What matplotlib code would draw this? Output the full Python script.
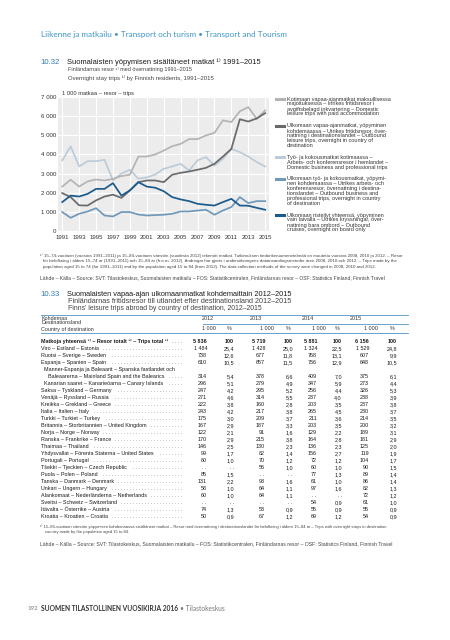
import matplotlib

matplotlib.use("Agg")
import matplotlib.pyplot as plt

W, H = 450, 640
BODY = ["Liberation Sans", "DejaVu Sans"]
NARROW = ["Liberation Sans Narrow", "Liberation Sans", "DejaVu Sans"]
ROUND = ["Lato", "DejaVu Sans"]

# --- chart 10.32: trips with overnight stays, 1 000 trips ---
YEARS = list(range(1991, 2016))
DOMESTIC_LEISURE = [2320, 2680, 2320, 2590, 2690, 2640, 2720, 2870, 2940, 3890, 3890, 4000, 4200,
                    4430, 4550, 4800, 4800, 4990, 5130, 5780, 5690, 6250, 6470, 5860, 6300]
OUTBOUND_LEISURE = [1980, 1770, 1340, 1330, 1600, 1800, 1900, 1730, 2120, 2550, 2640, 2640, 2550,
                    2940, 3040, 3110, 3200, 3300, 3510, 3890, 4290, 5836, 5719, 5881, 6156]
DOMESTIC_BUSINESS = [3690, 4420, 3370, 3650, 3650, 3720, 2650, 3000, 3200, 2730, 2800, 2950, 3250,
                     3370, 3510, 3160, 3690, 3860, 3420, 3770, 4290, 4120, 3890, 3600, 3370]
OUTBOUND_BUSINESS = [990, 690, 900, 1020, 1190, 810, 760, 990, 990, 860, 810, 830, 850,
                     900, 1020, 1020, 1070, 1110, 850, 1070, 1250, 1770, 1460, 1560, 1560]
CRUISES = [1510, 1850, 1800, 1940, 2200, 2200, 2500, 1850, 2120, 2550, 2320, 2260, 2080,
           1770, 1650, 1560, 1420, 1370, 1330, 1510, 1680, 1330, 1320, 1210, 1110]

LEGEND_TEXT = [
    ["Kotimaan vapaa-ajanmatkat maksullisessa", "majoituksessa – Inrikes fritidsresor i",
     "avgiftsbelagd inkvartering – Domestic", "leisure trips with paid accommodation"],
    ["Ulkomaan vapaa-ajanmatkat, yöpyminen", "kohdemaassa – Utrikes fritidsresor, över-",
     "nattning i destinationslandet – Outbound", "leisure trips, overnight in country of",
     "destination"],
    ["Työ- ja kokousmatkat kotimaassa –", "Arbets- och konferensresor i hemlandet –",
     "Domestic business and professional trips"],
    ["Ulkomaan työ- ja kokousmatkat, yöpymi-", "nen kohdemaassa – Utrikes arbets- och",
     "konferensresor, övernattning i destina-", "tionslandet – Outbound business and",
     "professional trips, overnight in country", "of destination"],
    ["Ulkomaan risteilyt yhteensä, yöpyminen", "vain laivalla – Utrikes kryssningar, över-",
     "nattning bara ombord – Outbound", "cruises, overnight on board only"],
]

# --- table 10.33: leisure trips abroad by destination ---
TABLE_YEARS = ["2012", "2013", "2014", "2015"]
TOTAL_LABEL = "Matkoja yhteensä ¹⁾ – Resor totalt ¹⁾ – Trips total ¹⁾"
TOTAL_K = [5836, 5719, 5881, 6156]
COUNTRIES = [
    "Viro – Estland – Estonia",
    "Ruotsi – Sverige – Sweden",
    "Espanja – Spanien – Spain",
    "Manner-Espanja ja Baleaarit – Spanska fastlandet och\nBaleaarerna – Mainland Spain and the Balearics",
    "Kanarian saaret – Kanarieöarna – Canary Islands",
    "Saksa – Tyskland – Germany",
    "Venäjä – Ryssland – Russia",
    "Kreikka – Grekland – Greece",
    "Italia – Italien – Italy",
    "Turkki – Turkiet – Turkey",
    "Britannia – Storbritannien – United Kingdom",
    "Norja – Norge – Norway",
    "Ranska – Frankrike – France",
    "Thaimaa – Thailand",
    "Yhdysvallat – Förenta Staterna – United States",
    "Portugali – Portugal",
    "Tšekki – Tjeckien – Czech Republic",
    "Puola – Polen – Poland",
    "Tanska – Danmark – Denmark",
    "Unkari – Ungern – Hungary",
    "Alankomaat – Nederländerna – Netherlands",
    "Sveitsi – Schweiz – Switzerland",
    "Itävalta – Österrike – Austria",
    "Kroatia – Kroatien – Croatia",
]
SUBREGIONS = {3, 4}
K2012 = [1484, 738, 610, 314, 296, 247, 271, 222, 243, 175, 167, 122, 170, 146, 99, 60,
         None, 85, 131, 58, 60, None, 74, 50]
P2012 = [25.4, 12.6, 10.5, 5.4, 5.1, 4.2, 4.6, 3.8, 4.2, 3.0, 2.9, 2.1, 2.9, 2.5, 1.7, 1.0,
         None, 1.5, 2.2, 1.0, 1.0, None, 1.3, 0.9]
K2013 = [1428, 677, 657, 378, 279, 295, 314, 160, 217, 209, 187, 91, 215, 130, 82, 70,
         56, None, 93, 64, 64, None, 53, 67]
P2013 = [25.0, 11.8, 11.5, 6.6, 4.9, 5.2, 5.5, 2.8, 3.8, 3.7, 3.3, 1.6, 3.8, 2.3, 1.4, 1.2,
         1.0, None, 1.6, 1.1, 1.1, None, 0.9, 1.2]
K2014 = [1324, 768, 756, 409, 347, 256, 237, 203, 265, 211, 203, 129, 164, 136, 156, 72,
         60, 77, 61, 97, None, 54, 55, 69]
P2014 = [22.5, 13.1, 12.9, 7.0, 5.9, 4.4, 4.0, 3.5, 4.5, 3.6, 3.5, 2.2, 2.8, 2.3, 2.7, 1.2,
         1.0, 1.3, 1.0, 1.6, None, 0.9, 0.9, 1.2]
K2015 = [1529, 607, 648, 375, 273, 326, 238, 237, 230, 214, 200, 189, 181, 125, 119, 104,
         90, 89, 86, 82, 72, 61, 55, 54]
P2015 = [24.8, 9.9, 10.5, 6.1, 4.4, 5.3, 3.9, 3.8, 3.7, 3.5, 3.2, 3.1, 2.9, 2.0, 1.9, 1.7,
         1.5, 1.4, 1.4, 1.3, 1.2, 1.0, 0.9, 0.9]

SOURCE = ("Lähde – Källa – Source: SVT: Tilastokeskus, Suomalaisten matkailu – FOS: Statistikcentralen, "
          "Finländarnas resor – OSF: Statistics Finland, Finnish Travel")
CHART_NOTE = [
    "¹⁾ 15–74-vuotiaan (vuosina 1991–2011) ja 15–84-vuotiaan väestön (vuodesta 2012) tekemät matkat. "
    "Tutkimuksen tiedonkeruumenetelmää on muutettu vuosina 2008, 2010 ja 2012. – Resor",
    "för befolkning i åldern 15–74 år (1991–2011) och 15–84 år (fr.o.m. 2012). Ändringar har gjorts i "
    "undersökningens datainsamlingsmetoder åren 2008, 2010 och 2012. – Trips made by the",
    "population aged 15 to 74 (for 1991–2011) and by the population aged 15 to 84 (from 2012). "
    "The data collection methods of the survey were changed in 2008, 2010 and 2012.",
]
TABLE_NOTE = [
    "¹⁾ 15–84-vuotiaan väestön yöpymisen kohdemaassa sisältäneet matkat – Resor med övernattning i "
    "destinationslandet för befolkning i åldern 15–84 år – Trips with overnight stays in destination",
    "country made by the population aged 15 to 84.",
]

SERIES = [DOMESTIC_BUSINESS, DOMESTIC_LEISURE, OUTBOUND_BUSINESS, OUTBOUND_LEISURE, CRUISES]
SERIES_COLORS = ["#bccbd7", "#b4b4b4", "#6f98b9", "#6a6a6a", "#1b5a8c"]
LEGEND_COLORS = ["#b4b4b4", "#6a6a6a", "#bccbd7", "#6f98b9", "#1b5a8c"]
BLUE = "#2b7cba"
RULE = "#4f93c6"

plt.rcParams["font.family"] = BODY
fig = plt.figure(figsize=(W / 100, H / 100), dpi=100)
renderer = fig.canvas.get_renderer()


def put(x, y, s, size=5.0, family=BODY, color="#1a1a1a", ha="left", weight="normal", width=None):
    """Place text by pixel coords (top-left origin); optionally scale font to a target width."""
    t = fig.text(x / W, 1 - y / H, s, fontsize=size, family=family, color=color,
                 ha=ha, va="center", fontweight=weight)
    if width is not None:
        w = t.get_window_extent(renderer).width
        t.set_fontsize(size * width / w)
    return t


def measure(s, family=BODY, size=5.0, width=None):
    """Font size that makes s `width` px wide, or the width of s at `size`; nothing is kept."""
    t = put(W / 2, H / 2, s, size=size, family=family)
    w = t.get_window_extent(renderer).width
    t.remove()
    return size * width / w if width is not None else w


def right_edge(t):
    return t.get_window_extent(renderer).x1


def hline(x0, x1, y, color=RULE, lw=0.6):
    fig.add_artist(plt.Line2D([x0 / W, x1 / W], [1 - y / H, 1 - y / H], color=color, lw=lw))


def fmt_k(v):
    return ". ." if v is None else f"{v:,}".replace(",", " ")


def fmt_p(v):
    return ". ." if v is None else f"{v:.1f}".replace(".", ",")


# header
put(40.7, 35, "Liikenne ja matkailu • Transport och turism • Transport and Tourism",
    family=ROUND, color="#3f95c8", width=248)

# ---- 10.32 ----
put(40.7, 62.3, "10.32", size=6.5, color=BLUE, width=19.3)
put(66.7, 62.3, "Suomalaisten yöpymisen sisältäneet matkat ¹⁾ 1991–2015", width=196)
put(67.5, 70, "Finländarnas resor ¹⁾ med övernattning 1991–2015", color="#444444", width=125)
put(67.5, 78.3, "Overnight stay trips ¹⁾ by Finnish residents, 1991–2015", color="#444444", width=148)

ax = fig.add_axes([58 / W, 1 - 231 / H, 211 / W, 134 / H])
ax.set_facecolor("#ececec")
for spine in ax.spines.values():
    spine.set_visible(False)
for values, color in zip(SERIES, SERIES_COLORS):
    ax.plot(YEARS, values, color=color, lw=1.25, solid_joinstyle="round")
ax.set_xlim(1990.5, 2015.45)
ax.set_ylim(0, 7000)
ax.set_xticks(range(1991, 2016, 2))
ax.set_yticks(range(0, 7001, 1000))
ax.set_yticklabels([fmt_k(v) for v in range(0, 7001, 1000)])
ax.grid(color="white", lw=0.8)
ax.set_axisbelow(True)
ax.tick_params(length=0, labelsize=4.4, colors="#333333")
ax.tick_params(axis="x", pad=3.2)
ax.tick_params(axis="y", pad=1.2)
put(62, 93.3, "1 000 matkaa – resor – trips", color="#333333", width=73)

# legend beside the chart
leg_size = measure(LEGEND_TEXT[0][0], width=105.7)
y = 99
for lines, color in zip(LEGEND_TEXT, LEGEND_COLORS):
    fig.add_artist(plt.Line2D([276 / W, 283.5 / W], [1 - y / H] * 2, color=color, lw=2.2))
    for line in lines:
        put(287, y, line, size=leg_size, color="#333333")
        y += 5
    y += 6.5

note_size = put(40, 255, CHART_NOTE[0], color="#444444", width=372).get_fontsize()
put(43, 261, CHART_NOTE[1], size=note_size, color="#444444")
put(43, 267, CHART_NOTE[2], size=note_size, color="#444444")
put(40, 278, SOURCE, color="#444444", width=346)

# ---- 10.33 ----
put(40.7, 294, "10.33", size=6.5, color=BLUE, width=19.3)
put(66.7, 294, "Suomalaisten vapaa-ajan ulkomaanmatkat kohdemaittain 2012–2015", width=232)
put(67.5, 301.5, "Finländarnas fritidsresor till utlandet efter destinationsland 2012–2015",
    color="#444444", width=230)
put(67.5, 308.5, "Finns' leisure trips abroad by country of destination, 2012–2015",
    color="#444444", width=197)

tab_size = measure(COUNTRIES[10], family=NARROW, width=106.7)
dot_pitch = measure(". " * 20, family=NARROW, size=tab_size) / 20
K_RIGHT = [207, 265, 317, 369]
P_RIGHT = [234, 293, 342, 397]
YEAR_LEFT = [202, 250, 302, 350]

hline(41, 408, 314.5)
hline(203, 408, 324)
hline(41, 408, 333)
put(41, 318, "Kohdemaa", size=tab_size, family=NARROW, color="#333333")
put(41, 322.5, "Destinationsland", size=tab_size, family=NARROW, color="#333333")
put(41, 329, "Country of destination", size=tab_size, family=NARROW, color="#333333")
for i, year in enumerate(TABLE_YEARS):
    put(YEAR_LEFT[i], 318.5, year, size=tab_size, family=NARROW, color="#333333")
    put(K_RIGHT[i] + 9, 329, "1 000", size=tab_size, family=NARROW, color="#333333", ha="right")
    put(P_RIGHT[i] - 2, 329, "%", size=tab_size, family=NARROW, color="#333333", ha="right")


def table_row(y, label, ks, ps, indent=0.0, weight="normal"):
    t = put(41 + indent, y, label, size=tab_size, family=NARROW, weight=weight)
    n = int((182 - right_edge(t) - 1.5) / dot_pitch)
    put(182, y, " ." * max(n, 0), size=tab_size, family=NARROW, ha="right", color="#555555")
    for i in range(4):
        put(K_RIGHT[i], y, ks[i], size=tab_size, family=NARROW, ha="right", weight=weight)
        put(P_RIGHT[i], y, ps[i], size=tab_size, family=NARROW, ha="right", weight=weight)


table_row(341.5, TOTAL_LABEL, [fmt_k(v) for v in TOTAL_K], ["100"] * 4, weight="bold")
y = 348.5
for r, label in enumerate(COUNTRIES):
    indent = 3.5 if r in SUBREGIONS else 0.0
    lines = label.split("\n")
    for extra in lines[:-1]:
        put(41 + indent, y, extra, size=tab_size, family=NARROW)
        y += 7
    table_row(y, lines[-1], [fmt_k(v[r]) for v in (K2012, K2013, K2014, K2015)],
              [fmt_p(v[r]) for v in (P2012, P2013, P2014, P2015)],
              indent=indent + (3 if len(lines) > 1 else 0))
    y += 7

tnote = put(40, 526.5, TABLE_NOTE[0], color="#444444", width=360).get_fontsize()
put(45, 532.5, TABLE_NOTE[1], size=tnote, color="#444444")
put(40, 544, SOURCE, color="#444444", width=357)

# footer
put(27, 608.3, "192", size=4.4, family=ROUND, color="#777777")
foot = put(40.7, 608.3, "SUOMEN TILASTOLLINEN VUOSIKIRJA 2016", family=ROUND,
           weight="bold", color="#333333", width=139)
put(right_edge(foot) + 2.5, 608.3, "• Tilastokeskus", size=foot.get_fontsize(),
    family=ROUND, color="#777777")

fig.savefig("out.png", dpi=100, facecolor="white")
